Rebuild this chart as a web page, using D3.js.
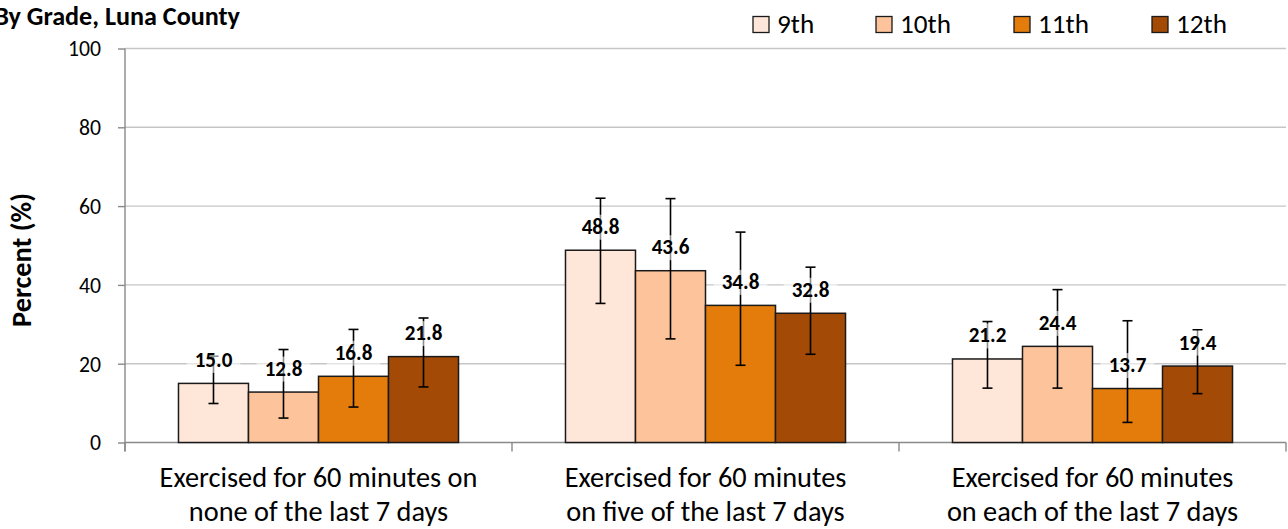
<!DOCTYPE html>
<html><head><meta charset="utf-8">
<script src="https://cdn.jsdelivr.net/npm/d3@7"></script>
<style>
html,body{margin:0;padding:0;background:#fff;overflow:hidden}
text{font-family:Carlito,Calibri,Lato,sans-serif;fill:#000}
</style></head>
<body><svg id="c" width="1288" height="529"></svg>
<script>
const categories = [
  ["Exercised for 60 minutes on", "none of the last 7 days"],
  ["Exercised for 60 minutes", "on five of the last 7 days"],
  ["Exercised for 60 minutes", "on each of the last 7 days"]
];
const grades = ["9th", "10th", "11th", "12th"];
const values = {
  "9th":  [15.0, 48.8, 21.2],
  "10th": [12.8, 43.6, 24.4],
  "11th": [16.8, 34.8, 13.7],
  "12th": [21.8, 32.8, 19.4]
};
const lower = {
  "9th":  [9.9, 35.3, 13.8],
  "10th": [6.2, 26.3, 13.8],
  "11th": [9.0, 19.6, 5.1],
  "12th": [14.1, 22.4, 12.4]
};
const upper = {
  "9th":  [21.9, 62.0, 30.7],
  "10th": [23.6, 61.9, 38.8],
  "11th": [28.7, 53.4, 30.9],
  "12th": [31.6, 44.5, 28.6]
};
const yTicks = [0, 20, 40, 60, 80, 100];
const colors = ["#FEE6D9", "#FDC49B", "#E37C0A", "#A24A06"];
const titleText = "By Grade, Luna County";
const yTitle = "Percent (%)";

const svg = d3.select("#c");
const L = 125, R = 1286, T = 48.5, B = 442.5;
const FONT = "Carlito,Calibri,Lato,sans-serif";

function fit(sel, target) {
  const n = sel.node();
  const fs = parseFloat(sel.attr("font-size"));
  const w = n.getComputedTextLength();
  const nfs = fs * target / w;
  sel.attr("font-size", nfs);
  return nfs;
}

const x0 = d3.scaleBand().domain(d3.range(categories.length)).range([L, R]).paddingInner(0).paddingOuter(0);
const x1 = d3.scaleBand().domain(grades).range([0, x0.bandwidth()]).paddingInner(0).paddingOuter(0.764);
const y = d3.scaleLinear().domain([0, 100]).range([B, T]);
const color = d3.scaleOrdinal().domain(grades).range(colors);

// gridlines
svg.append("g").selectAll("line").data(yTicks.filter(d => d > 0)).join("line")
  .attr("x1", L).attr("x2", R).attr("y1", d => y(d)).attr("y2", d => y(d))
  .attr("stroke", "#C6C6C6").attr("stroke-width", 1.4);

// y axis
const yAxis = d3.axisLeft(y).tickValues(yTicks).tickSize(7).tickPadding(17);
const yg = svg.append("g").attr("transform", `translate(${L},0)`).call(yAxis);
yg.select(".domain").remove();
yg.selectAll(".tick line").attr("stroke", "#898989").attr("stroke-width", 1.4);
yg.selectAll(".tick text").attr("font-family", FONT).attr("font-size", 21).attr("fill", "#000").attr("dy", "0.34em");
{
  const t100 = yg.selectAll(".tick text").filter(d => d === 100);
  const fs = fit(t100, 33);
  yg.selectAll(".tick text").attr("font-size", fs);
}
svg.append("line").attr("x1", L).attr("x2", L).attr("y1", T).attr("y2", B + 9)
  .attr("stroke", "#898989").attr("stroke-width", 1.4);

// x axis
svg.append("line").attr("x1", L).attr("x2", R).attr("y1", B).attr("y2", B)
  .attr("stroke", "#898989").attr("stroke-width", 1.6);
const bounds = d3.range(categories.length + 1).map(i => i < categories.length ? x0(i) : x0(i - 1) + x0.bandwidth());
svg.append("g").selectAll("line").data(bounds).join("line")
  .attr("x1", d => d).attr("x2", d => d).attr("y1", B).attr("y2", B + 9)
  .attr("stroke", "#898989").attr("stroke-width", 1.4);

// bars
const flat = [];
categories.forEach((c, i) => grades.forEach((g, j) => flat.push({ i, g, j, v: values[g][i], lo: lower[g][i], hi: upper[g][i] })));
const bx = d => x0(d.i) + x1(d.g);
svg.append("g").selectAll("rect").data(flat).join("rect")
  .attr("x", bx).attr("width", x1.bandwidth())
  .attr("y", d => y(d.v)).attr("height", d => y(0) - y(d.v))
  .attr("fill", d => color(d.g)).attr("stroke", "#1a1a1a").attr("stroke-width", 1.5);

// error bars
const eg = svg.append("g").attr("stroke", "#000").attr("stroke-width", 1.6);
flat.forEach(d => {
  const cx = bx(d) + x1.bandwidth() / 2;
  eg.append("line").attr("x1", cx).attr("x2", cx).attr("y1", y(d.lo)).attr("y2", y(d.hi));
  eg.append("line").attr("x1", cx - 5).attr("x2", cx + 5).attr("y1", y(d.lo)).attr("y2", y(d.lo));
  eg.append("line").attr("x1", cx - 5).attr("x2", cx + 5).attr("y1", y(d.hi)).attr("y2", y(d.hi));
});

// value labels
const lg = svg.append("g");
let labelFS = null;
flat.forEach(d => {
  const cx = bx(d) + x1.bandwidth() / 2;
  const base = y(d.v) - 16.5;
  const rect = lg.append("rect").attr("fill", "#fff").attr("fill-opacity", 0.55);
  const t = lg.append("text").attr("x", cx).attr("y", base).attr("text-anchor", "middle")
    .attr("font-weight", "bold").attr("font-family", FONT).attr("font-size", 20).text(d.v.toFixed(1));
  if (labelFS === null) labelFS = fit(t, 37.7); else t.attr("font-size", labelFS);
  const w = t.node().getComputedTextLength();
  rect.attr("x", cx - w / 2 - 8).attr("width", w + 16).attr("y", base - 19).attr("height", 25);
});

// x labels
let xfs = null;
const xl = svg.append("g");
categories.forEach((c, i) => {
  const cx = x0(i) + x0.bandwidth() / 2;
  c.forEach((line, k) => {
    const t = xl.append("text").attr("x", cx).attr("y", 487 + k * 34).attr("text-anchor", "middle")
      .attr("font-family", FONT).attr("font-size", 24).text(line);
    if (xfs === null) xfs = fit(t, 318); else t.attr("font-size", xfs);
  });
});

// y title
{
  const t = svg.append("text").attr("transform", "translate(31,260) rotate(-90)")
    .attr("text-anchor", "middle").attr("font-weight", "bold").attr("font-family", FONT)
    .attr("font-size", 24).text(yTitle);
  fit(t, 134);
}

// title (clipped at left)
{
  const t = svg.append("text").attr("x", 240).attr("y", 25).attr("text-anchor", "end")
    .attr("font-weight", "bold").attr("font-family", FONT).attr("font-size", 24).text(titleText);
  fit(t, 246);
}

// legend
const legX = [753, 876, 1014, 1152];
let legFS = null;
const leg = svg.append("g");
grades.forEach((g, j) => {
  leg.append("rect").attr("x", legX[j]).attr("y", 16.5).attr("width", 16).attr("height", 16)
    .attr("fill", color(g)).attr("stroke", "#1a1a1a").attr("stroke-width", 1.3);
  const t = leg.append("text").attr("x", legX[j] + 24).attr("y", 33).attr("font-family", FONT)
    .attr("font-size", 26).text(g);
  if (g === "11th") { legFS = fit(t, 51); }
});
leg.selectAll("text").attr("font-size", legFS);
</script></body></html>
